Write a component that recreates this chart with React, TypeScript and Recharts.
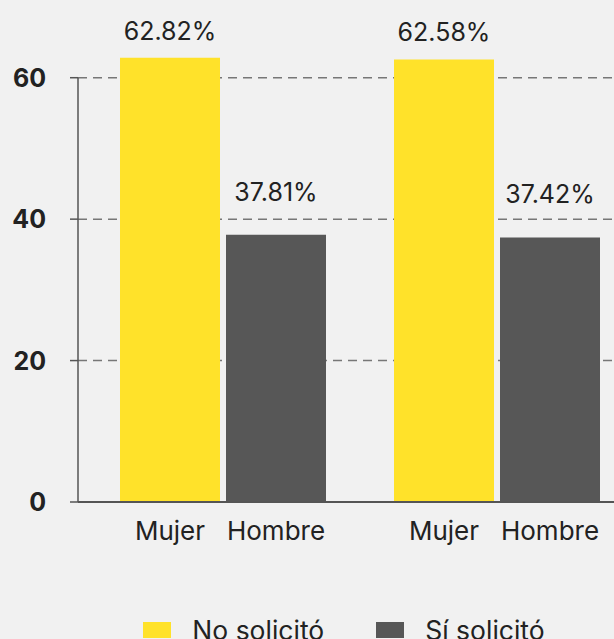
import { BarChart, Bar, XAxis, YAxis, CartesianGrid, LabelList, Legend, ReferenceLine } from "recharts";

/* ── datos ── */
const GROUPS = ["Grupo A", "Grupo B"];
const SEX_LABELS = ["Mujer", "Hombre"];
const NO_SOLICITO = [62.82, 62.58];
const SI_SOLICITO = [37.81, 37.42];
const Y_TICKS = [0, 20, 40, 60];

const SERIES = [
  { key: "no", name: "No solicitó", color: "#FFE22A", labelOffset: 18 },
  { key: "si", name: "Sí solicitó", color: "#575757", labelOffset: 34 },
];

const data = GROUPS.map((group, i) => ({
  group,
  no: NO_SOLICITO[i],
  si: SI_SOLICITO[i],
}));

const FONT = "Inter, 'Noto Sans', sans-serif";
const TEXT_COLOR = "#222";
const AXIS_COLOR = "#555";
const BAR_SIZE = 100;
const BAR_GAP = 6;
const CHART_W = 688;

/* ── ticks ── */
function GroupTick({ x = 0, y = 0 }: { x?: number; y?: number }) {
  // una etiqueta bajo cada barra del grupo
  const step = (BAR_SIZE + BAR_GAP) / 2;
  return (
    <g>
      {SEX_LABELS.map((label, i) => (
        <text
          key={label}
          x={x + (i === 0 ? -step : step)}
          y={y}
          dy="0.71em"
          textAnchor="middle"
          fontSize={26}
          fontFamily={FONT}
          fill={TEXT_COLOR}
        >
          {label}
        </text>
      ))}
    </g>
  );
}

function ValueTick({ x = 0, y = 0, payload }: { x?: number; y?: number; payload?: { value: number } }) {
  return (
    <text
      x={x}
      y={y}
      dy="0.36em"
      textAnchor="end"
      fontSize={25}
      fontWeight={700}
      fontFamily={FONT}
      fill={TEXT_COLOR}
    >
      {payload?.value}
    </text>
  );
}

/* ── leyenda ── */
function LegendContent() {
  return (
    <div style={{ display: "flex", justifyContent: "center", alignItems: "center", height: 32, gap: 52 }}>
      {SERIES.map((s) => (
        <div key={s.key} style={{ display: "flex", alignItems: "center", gap: 21 }}>
          <span style={{ width: 28, height: 16, background: s.color, display: "inline-block" }} />
          <span style={{ fontSize: 26.5, color: TEXT_COLOR, fontFamily: FONT, lineHeight: "32px" }}>{s.name}</span>
        </div>
      ))}
    </div>
  );
}

export default function App() {
  return (
    <div
      style={{
        position: "fixed",
        left: 0,
        top: 0,
        width: 614,
        height: 639,
        overflow: "hidden",
        background: "#f1f1f1",
      }}
    >
      <BarChart
        width={CHART_W}
        height={660}
        data={data}
        margin={{ top: 7, right: 54, bottom: 14, left: 0 }}
        barSize={BAR_SIZE}
        barGap={BAR_GAP}
      >
        <CartesianGrid
          vertical={false}
          horizontalValues={Y_TICKS}
          stroke="#777"
          strokeWidth={1.5}
          strokeDasharray="9 6"
        />
        <XAxis
          dataKey="group"
          height={112}
          padding={{ left: 8, right: 0 }}
          axisLine={{ stroke: AXIS_COLOR, strokeWidth: 2 }}
          tickLine={false}
          tickSize={0}
          tickMargin={20}
          tick={(props: any) => <GroupTick x={props.x} y={props.y} />}
        />
        <XAxis xAxisId="edge" type="number" domain={[0, 1]} hide />
        <YAxis
          width={78}
          domain={[0, 70]}
          ticks={Y_TICKS}
          axisLine={false}
          tickLine={{ stroke: AXIS_COLOR, strokeWidth: 1.5 }}
          tickSize={8}
          tickMargin={24}
          tick={(props: any) => <ValueTick x={props.x} y={props.y} payload={props.payload} />}
        />
        <ReferenceLine
          xAxisId="edge"
          segment={[
            { x: 0, y: Y_TICKS[0] },
            { x: 0, y: Y_TICKS[Y_TICKS.length - 1] },
          ]}
          stroke={AXIS_COLOR}
          strokeWidth={1.5}
          ifOverflow="visible"
        />
        {SERIES.map((s) => (
          <Bar key={s.key} dataKey={s.key} name={s.name} fill={s.color} isAnimationActive={false}>
            <LabelList
              dataKey={s.key}
              position="top"
              offset={s.labelOffset}
              formatter={(v: any) => `${Number(v).toFixed(2)}%`}
              fontSize={25}
              fontFamily={FONT}
              fill={TEXT_COLOR}
            />
          </Bar>
        ))}
        <Legend
          verticalAlign="bottom"
          wrapperStyle={{ left: 0, width: CHART_W }}
          content={() => <LegendContent />}
        />
      </BarChart>
    </div>
  );
}
